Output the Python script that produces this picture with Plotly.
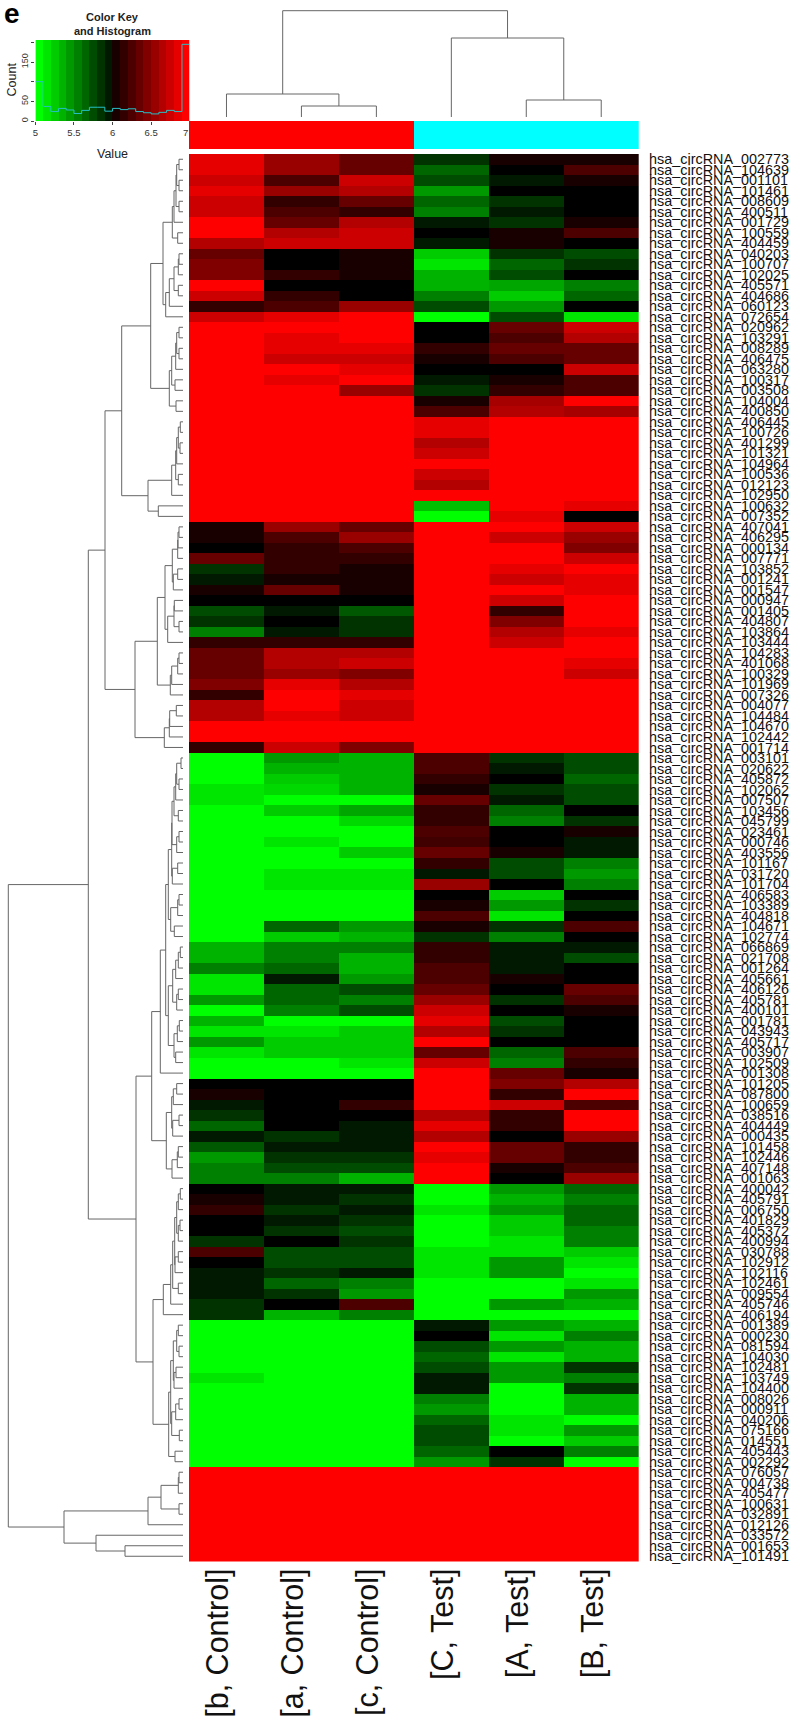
import math
import plotly.graph_objects as go

W, H = 793, 1731

samples = ["[b, Control]", "[a, Control]", "[c, Control]", "[C, Test]", "[A, Test]", "[B, Test]"]
sample_groups = [[0, 0, 0, 1, 1, 1]]

row_ids = """002773 104639 001101 101461 008609 400511 001729 100559 404459 040203 100707 102025 405571 404686
060123 072654 020962 103291 008289 406475 063280 100317 003508 104004 400850 406445 100726 401299 101321 104964
100536 012123 102950 100632 007352 407041 406295 000134 007771 103852 001241 001547 000947 001405 404807 103864
103444 104283 401068 100329 101969 007326 004077 104484 104670 102442 001714 003101 020622 405872 102062 007507
103456 045799 023461 000746 403556 101167 031720 101704 406583 103389 404818 104671 102774 066869 021708 001264
405661 406126 405781 400101 001781 043943 405717 003907 102509 001308 101205 087800 100659 038516 404449 000435
101458 102446 407148 001063 400042 405791 006750 401829 405372 400994 030788 102912 102116 102461 009554 405746
406194 001389 000230 081594 104030 102481 103749 104400 008026 000911 040206 075166 014551 405443 002292 076057
004738 405477 100631 032891 012126 033572 001653 101491""".split()
row_labels = ["hsa_circRNA_" + r for r in row_ids]

expression = [
[6.9,6.6,6.4,5.8,6.1,6.1],[6.9,6.6,6.4,5.6,6.0,6.3],[6.8,6.3,6.8,5.7,5.9,6.1],[6.9,6.6,6.7,5.4,6.0,6.0],
[6.8,6.2,6.4,5.6,5.8,6.0],[6.8,6.3,6.2,5.5,5.9,6.0],[7,6.4,6.7,5.9,5.8,6.1],[7,6.7,6.8,6.0,6.1,6.3],
[6.7,6.8,6.8,5.9,6.1,6.0],[6.4,6.0,6.1,5.2,5.8,5.7],[6.5,6.0,6.1,5.1,5.6,5.8],[6.5,6.2,6.1,5.3,5.7,6.0],
[7,6.0,6.0,5.3,5.35,5.5],[6.8,6.2,6.0,5.5,5.2,5.6],[6.2,6.3,6.6,5.7,5.4,6.0],[6.8,6.9,7,5.0,5.7,5.1],
[7,7,7,6.0,6.4,6.8],[7,6.9,7,6.0,6.3,6.7],[7,6.9,6.9,6.2,6.4,6.4],[7,6.8,6.8,6.1,6.3,6.4],
[7,7,6.9,6.0,6.0,6.8],[7,6.9,7,5.9,6.1,6.3],[7,7,6.6,5.8,6.2,6.3],[7,7,7,6.1,6.65,7],
[7,7,7,6.3,6.7,6.65],[7,7,7,6.9,7,7],[7,7,7,6.9,7,7],[7,7,7,6.7,7,7],
[7,7,7,6.8,7,7],[7,7,7,7,7,7],[7,7,7,6.8,7,7],[7,7,7,6.7,7,7],
[7,7,7,7,7,7],[7,7,7,5.25,7,6.9],[7,7,7,5,6.9,6.0],[6.1,6.6,6.4,7,7,6.8],
[6.1,6.3,6.6,7,6.8,6.6],[6.0,6.2,6.3,7,7,6.5],[6.4,6.2,6.2,7,7,6.8],[5.8,6.2,6.1,7,6.9,7],
[5.9,6.1,6.1,7,6.8,6.9],[6.1,6.4,6.1,7,7,6.9],[6.0,6.0,6.0,7,6.8,7],[5.7,5.9,5.65,7,6.2,7],
[5.8,6.0,5.8,7,6.5,7],[5.5,5.9,5.8,7,6.7,6.9],[6.2,6.2,6.2,7,6.8,7],[6.4,6.7,6.7,7,7,7],
[6.4,6.7,6.8,7,7,6.9],[6.4,6.6,6.5,7,7,6.8],[6.5,6.9,6.7,7,7,7],[6.2,7,6.9,7,7,7],
[6.7,7,6.8,7,7,7],[6.7,6.9,6.8,7,7,7],[7,7,7,7,7,7],[7,7,7,7,7,7],
[6.2,6.8,6.5,7,7,7],[5.0,5.4,5.3,6.3,5.8,5.7],[5.0,5.3,5.3,6.3,5.9,5.7],[5.0,5.2,5.3,6.2,6.0,5.6],
[5.1,5.15,5.3,6.1,5.8,5.7],[5.1,5.0,5.0,6.4,5.9,5.7],[5.0,5.2,5.35,6.2,5.6,6.0],[5.0,5.0,5.15,6.2,5.5,5.8],
[5,5,5,6.3,6.0,6.1],[5,5.1,5,6.25,6.0,5.9],[5,5,5.2,6.4,6.1,5.9],[5,5,5,6.2,5.7,5.5],
[5,5.1,5.1,5.9,5.7,5.4],[5,5.1,5.1,6.6,6.0,5.5],[5,5,5,6.0,5.2,6.0],[5,5,5,6.1,5.4,5.8],
[5,5,5,6.3,5.1,6.0],[5,5.6,5.4,6.1,5.8,6.3],[5,5.2,5.3,5.8,5.5,6.0],[5.3,5.5,5.5,6.2,5.9,5.9],
[5.3,5.5,5.3,6.2,5.9,5.7],[5.5,5.6,5.3,6.3,5.9,6.0],[5.1,5.9,5.4,6.3,6.1,6.0],[5.1,5.6,5.7,6.4,6.0,6.4],
[5.4,5.6,5.5,6.6,5.8,6.3],[5.0,5.5,5.7,6.8,6.0,6.1],[5.3,5,5,6.9,5.7,6.0],[5.1,5.1,5.2,6.7,5.8,6.0],
[5.4,5.2,5.2,7,6.0,6.0],[5.1,5.2,5.2,6.4,5.6,6.3],[5,5,5.1,6.8,5.5,6.2],[5,5,5,7,6.4,6.1],
[6,6,6,7,6.5,6.7],[6.1,6,6,7,6.2,7],[5.9,6,6.2,7,6.8,6.3],[5.8,6,6,6.7,6.2,7],
[5.6,6,5.9,6.9,6.2,7],[5.9,5.8,5.9,6.7,6.0,6.6],[5.65,5.9,5.9,7,6.4,6.2],[5.4,5.8,5.8,6.9,6.4,6.2],
[5.5,5.7,5.7,7,6.1,6.3],[5.5,5.5,5.3,7,6.0,6.6],[6.0,5.9,5.9,5,5.4,5.6],[6.1,5.9,5.8,5,5.3,5.5],
[6.2,5.8,5.9,5.1,5.4,5.6],[6,5.9,5.8,5,5.2,5.6],[6,5.8,5.7,5,5.2,5.5],[5.8,6,5.8,5,5.1,5.5],
[6.3,5.7,5.7,5.1,5.1,5.2],[6,5.7,5.7,5.1,5.4,5.1],[5.9,5.8,5.9,5.1,5.4,5.0],[5.9,5.6,5.5,5,5,5.1],
[5.9,5.8,5.4,5,5,5.4],[5.8,6,6.3,5,5.4,5.3],[5.8,5.3,5.5,5,5,5],[5,5,5,5.9,5.4,5.3],
[5,5,5,6,5.1,5.5],[5,5,5,5.7,5.4,5.3],[5,5,5,5.6,5.1,5.3],[5,5,5,5.7,5.4,5.8],
[5.1,5,5,5.9,5.4,5.5],[5,5,5,5.9,5,5.8],[5,5,5,5.5,5,5.3],[5,5,5,5.4,5,5.3],
[5,5,5,5.6,5.1,5],[5,5,5,5.7,5.1,5.4],[5,5,5,5.7,5,5.2],[5,5,5,5.6,6,5.5],
[5,5,5,5.4,5.8,5],[7,7,7,7,7,7],[7,7,7,7,7,7],[7,7,7,7,7,7],
[7,7,7,7,7,7],[7,7,7,7,7,7],[7,7,7,7,7,7],[7,7,7,7,7,7],
[7,7,7,7,7,7],[7,7,7,7,7,7],
]

key_edges = [5.0,5.1,5.2,5.3,5.4,5.5,5.6,5.7,5.8,5.9,6.0,6.1,6.2,6.3,6.4,6.5,6.6,6.7,6.8,6.9,7.0]
key_bands = [5.0,5.1,5.2,5.3,5.4,5.5,5.6,5.7,5.8,5.9,6.1,6.2,6.3,6.4,6.5,6.6,6.7,6.8,6.9,7.0]
hist_counts = [100,37,24,32,28,19,27,35,35,25,32,29,31,24,21,18,22,27,24,195]

# dendrograms as nested [merge height, child, child]; integers are leaves
col_tree = [106.3, [23, 0, [11, 1, 2]], [79, 3, [17, 4, 5]]]

branch_A = [20,
    [10.7, [9, [7, [6.3, [4, 0, 1], [4, 2, 3]], [4, 4, 5]], 6], [5.3, 7, 8]],
    [17.3, [13.7, [9, [4.7, [4, 9, 10], 11], [4.7, 12, 13]], 14], 15]]
branch_B = [13.7, [11.3, [7.3, [6.3, [4, 16, 17], [4, 18, 19]], 20], [8, 21, 22]], [7, 23, 24]]
branch_C = [35,
    [11.3, [7.3, [6.3, [4.7, [2.7, 25, 26], [3, 27, 28]], 29], [4.7, 30, 31]], 32],
    [24.7, 33, 34]]
branch_D = [48,
    [25.7,
     [18, [10.7, [5.3, [5, [4, 35, 36], 37], 38], [9.7, [5.3, 39, 40], 41]],
      [15.3, [9, [8.7, 42, 43], [4, 44, 45]], 46]],
     [12.7, [11.3, [5.3, [4, 47, 48], 49], 50], 51]],
    [18.7, [13.7, [13.3, [6.7, 52, 53], 54], 55], 56]]
branch_G = [14.7,
    [11.3, [11, [9, [7.3, [6.3, [2, 57, 58], [4, 59, 60]], 61], [4.7, 62, 63]], [6.3, [4, 64, 65], 66]],
     [10.7, [5.3, 67, 68], 69]],
    [12.3, [5.3, [4, 70, 71], 72], [8.7, 73, 74]]]
branch_H = [14.7,
    [10.3, [7.3, [4.7, [2.7, 75, 76], 77], 78], [6.3, [4.7, 79, 80], 81]],
    [9, [5.7, [3.7, 82, 83], 84], [7.3, 85, 86]]]
branch_E = [31.3,
    [22.7, [17.3, branch_G, branch_H], 87],
    [16.7, [11.3, [9.7, [6.3, 88, 89], 90], [10.3, [4, 91, 92], 93]],
     [11, [5.7, [4.7, 94, 95], 96], 97]]]
branch_L = [30,
    [19.7, [12.3, [10.3, [8.3, [6.3, [4.7, [2.7, 98, 99], 100], [4.7, [3, 101, 102], 103]],
                          [8, [4.7, 104, 105], 106]], [4.7, 107, 108]], 109], 110],
    [14.3, [12.3, [9.7, [6.3, [4.7, 111, 112], [4, 113, 114]], [9, [7, 115, 116], 117]],
            [11.3, [7.3, [4, 118, 119], 120], [3.7, 121, 122]]], [8, 123, 124]]]
branch_Z = [119,
            [35, [22, [4.7, [4, 125, 126], 127], [4, 128, 129]], 130],
            [87, 131, [58, 132, 133]]]
row_tree = [174.7,
            [94.7, [78, [61.3, [32.3, branch_A, branch_B], branch_C], branch_D],
             [47, branch_E, branch_L]],
            branch_Z]

GREEN_BLACK_RED = [[0, "#00ff00"], [0.5, "#000000"], [1, "#ff0000"]]
FONT = "Liberation Sans"
LINE = "#666666"
CLEAR = "rgba(0,0,0,0)"


def xdom(a, b):
    return [a / W, b / W]


def ydom(top, bottom):
    return [1 - bottom / H, 1 - top / H]


def walk(node, seg_h, seg_p):
    """Return (height, position) of a node and append its three segments."""
    if not isinstance(node, list):
        return 0, node
    h, left, right = node
    h1, p1 = walk(left, seg_h, seg_p)
    h2, p2 = walk(right, seg_h, seg_p)
    seg_h += [h1, h, h, h2, math.nan]
    seg_p += [p1, p1, p2, p2, math.nan]
    return h, (p1 + p2) / 2


row_h, row_p = [], []
walk(row_tree, row_h, row_p)
col_h, col_p = [], []
walk(col_tree, col_h, col_p)

n_rows = len(row_labels)
rows = list(range(n_rows))
cols = list(range(len(samples)))

fig = go.Figure()
fig.add_trace(go.Heatmap(z=expression, x=cols, y=rows, zmin=5, zmax=7, colorscale=GREEN_BLACK_RED,
                         showscale=False, hoverinfo="skip", xaxis="x", yaxis="y"))
fig.add_trace(go.Scatter(x=row_h, y=row_p, mode="lines", line=dict(color=LINE, width=1),
                         hoverinfo="skip", showlegend=False, xaxis="x2", yaxis="y2"))
fig.add_trace(go.Scatter(x=col_p, y=col_h, mode="lines", line=dict(color=LINE, width=1),
                         hoverinfo="skip", showlegend=False, xaxis="x3", yaxis="y3"))
fig.add_trace(go.Heatmap(z=[key_bands], x=key_edges, y=[0, 206], zmin=5, zmax=7, colorscale=GREEN_BLACK_RED,
                         showscale=False, hoverinfo="skip", xaxis="x4", yaxis="y4"))
fig.add_trace(go.Scatter(x=key_edges, y=hist_counts + [hist_counts[-1]], mode="lines",
                         line=dict(color="#25c0c8", width=1, shape="hv"),
                         hoverinfo="skip", showlegend=False, xaxis="x4", yaxis="y4"))
fig.add_trace(go.Heatmap(z=sample_groups, x=cols, y=[0], zmin=0, zmax=1,
                         colorscale=[[0, "#ff0000"], [1, "#00ffff"]],
                         showscale=False, hoverinfo="skip", xaxis="x5", yaxis="y5"))

hidden = dict(visible=False, showgrid=False, zeroline=False)
col_range = [-0.5, len(samples) - 0.5]
row_range = [n_rows - 0.5, -0.5]
HX = xdom(189, 638.7)
HY = ydom(154, 1561.5)
label_shift = 0.107


def note(text, x, y, size, color="#222222", angle=0, xanchor="center"):
    return dict(text=text, x=x / W, y=1 - y / H, xref="paper", yref="paper", xanchor=xanchor, yanchor="middle",
                showarrow=False, textangle=angle, font=dict(size=size, family=FONT, color=color))


fig.update_layout(
    width=W, height=H, margin=dict(l=0, r=0, t=0, b=0), autosize=False,
    paper_bgcolor="white", plot_bgcolor="white", showlegend=False,
    font=dict(family=FONT, color="#111111"),
    xaxis=dict(domain=HX, range=col_range, anchor="y", side="bottom", showgrid=False, zeroline=False,
               tickmode="array", tickvals=[c - label_shift for c in cols], ticktext=samples,
               tickangle=-90, tickfont=dict(size=30.5, family=FONT, color="#111111"),
               ticks="", automargin=False, showline=False),
    yaxis=dict(domain=HY, range=row_range, anchor="x", side="right", showgrid=False, zeroline=False,
               tickmode="array", tickvals=rows, ticktext=row_labels,
               tickfont=dict(size=14.4, family=FONT, color="#111111"),
               ticks="outside", ticklen=6.5, tickcolor=CLEAR, automargin=False, showline=False),
    xaxis2=dict(domain=xdom(0, 183), range=[183, 0], anchor="y2", **hidden),
    yaxis2=dict(domain=HY, range=row_range, anchor="x2", **hidden),
    xaxis3=dict(domain=HX, range=col_range, anchor="y3", **hidden),
    yaxis3=dict(domain=ydom(0, 117), range=[0, 117], anchor="x3", **hidden),
    xaxis4=dict(domain=xdom(35.4, 189.7), range=[5, 7], anchor="y4", showgrid=False, zeroline=False,
                tickmode="array", tickvals=[5, 5.5, 6, 6.5, 7], ticktext=["5", "5.5", "6", "6.5", ""],
                ticks="outside", ticklen=3, tickwidth=1, tickcolor="#444444",
                tickfont=dict(size=9.5, color="#333333", family=FONT), automargin=False),
    yaxis4=dict(domain=ydom(40, 121), range=[0, 206], anchor="x4", showgrid=False, zeroline=False,
                tickmode="array", tickvals=[0, 50, 100, 150, 200], ticktext=["0", "50", "", "150", ""],
                ticks="outside", ticklen=3, tickwidth=1, tickcolor="#444444", tickangle=-90,
                tickfont=dict(size=9, color="#333333", family=FONT), automargin=False),
    xaxis5=dict(domain=HX, range=col_range, anchor="y5", **hidden),
    yaxis5=dict(domain=ydom(121, 149), range=[-0.5, 0.5], anchor="x5", **hidden),
    annotations=[
        note("<b>e</b>", 2, 13, 28, "#000000", xanchor="left"),
        note("<b>Color Key</b>", 112, 17.5, 11),
        note("<b>and Histogram</b>", 112, 31, 11),
        note("Value", 112, 154, 12.5),
        note("Count", 11.5, 80, 12.5, angle=-90),
        note("7", 190, 132, 9.5, "#333333", xanchor="right"),
    ],
)

fig.write_html("out.html", config=dict(displayModeBar=False),
               post_script="document.body.style.margin='0';document.body.style.overflow='hidden';")
